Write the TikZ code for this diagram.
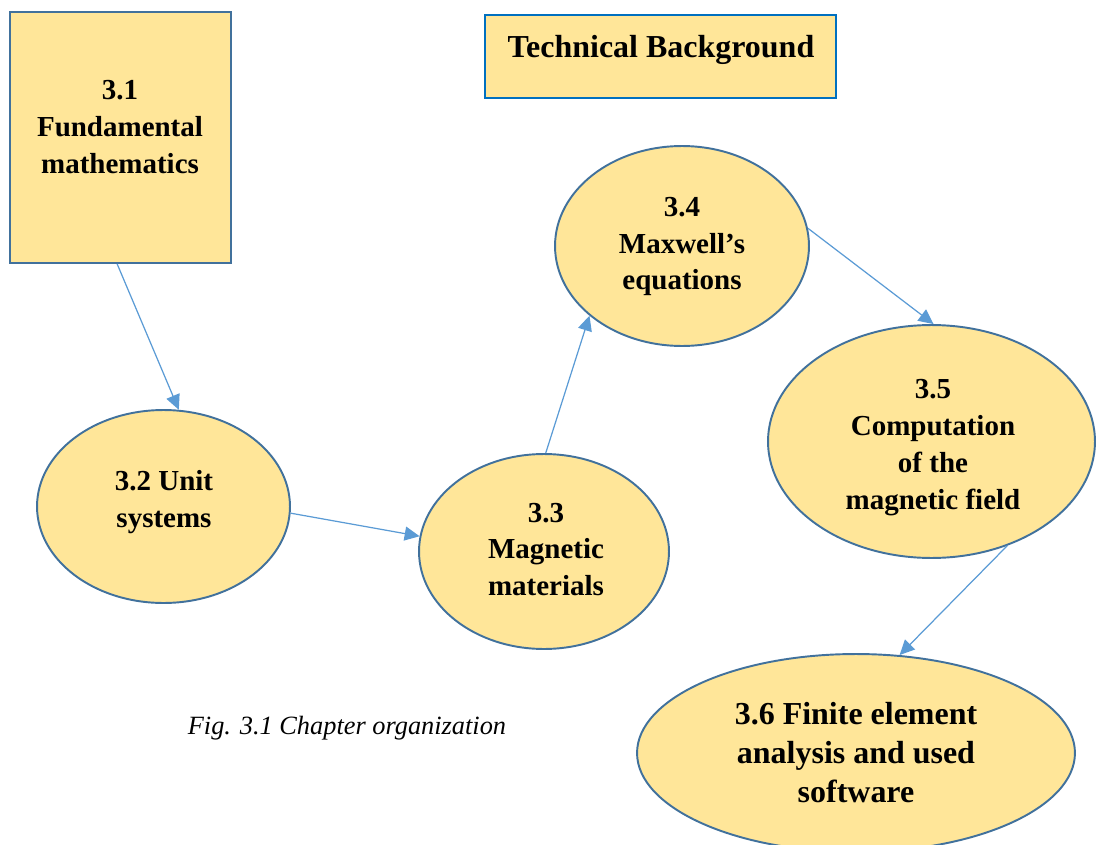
\documentclass[tikz,border=0pt]{standalone}
\usepackage{fontspec}
\setmainfont{Liberation Serif}
\usetikzlibrary{shapes.geometric,arrows.meta,calc}
\definecolor{boxfill}{HTML}{FFE699}
\definecolor{boxline}{HTML}{41719C}
\definecolor{titleline}{HTML}{0070C0}
\definecolor{arrowc}{HTML}{5B9BD5}
\begin{document}
\begin{tikzpicture}[x=0.02cm,y=-0.02cm,
 oval/.style={ellipse, draw=boxline, fill=boxfill, line width=1.1pt, inner sep=0pt},
 lbl/.style={font=\fontsize{16.5}{21}\selectfont\bfseries, align=center, inner sep=0pt},
 big/.style={font=\fontsize{18.2}{22.2}\selectfont\bfseries, align=center, inner sep=0pt},
 conn/.style={draw=arrowc, line width=0.7pt, -{Triangle[length=8.5pt,width=8pt]}}]
\useasboundingbox (0,0) rectangle (1096,845);
% boxes
\node[draw=boxline, fill=boxfill, line width=1.1pt, minimum width=4.42cm, minimum height=5.02cm, inner sep=0pt] (r31) at (120.5,137.5) {};
\node[lbl] (t31) at (120,127) {3.1\\Fundamental\\mathematics};
\node[draw=titleline, fill=boxfill, line width=1.1pt, minimum width=7.02cm, minimum height=1.66cm, inner sep=0pt] (title) at (660.5,56.5) {};
\node[big] (ttitle) at (661,50) {Technical Background};
% ellipses
\node[oval, minimum width=5.06cm, minimum height=3.86cm] (e32) at (163.5,506.5) {};
\node[lbl] (t32) at (164,502) {3.2 Unit\\systems};
\node[oval, minimum width=5.0cm, minimum height=3.9cm] (e33) at (544,551.5) {};
\node[lbl] (t33) at (546,549.5) {3.3\\Magnetic\\materials};
\node[oval, minimum width=5.08cm, minimum height=4.0cm] (e34) at (682,246) {};
\node[lbl] (t34) at (682,246.5) {3.4\\Maxwell’s\\equations};
\node[oval, minimum width=6.54cm, minimum height=4.66cm] (e35) at (931.5,441.5) {};
\node[lbl] (t35) at (933,447.5) {3.5\\Computation\\of the\\magnetic field};
\node[oval, minimum width=8.76cm, minimum height=3.96cm] (e36) at (856,753) {};
\node[big] (t36) at (856,753) {3.6 Finite element\\analysis and used\\software};
% caption
\node[font=\fontsize{15}{18}\selectfont\itshape, inner sep=0pt] (cap) at (347,728) {Fig. 3.1 Chapter organization};
% connectors
\draw[conn] ($(r31.south west)!0.485!(r31.south east)$) -- (e32.81);
\draw[conn] (e32.-3) -- (e33.173);
\draw[conn] (e33.89) -- (e34.217);
\draw[conn] (e34.8.6) -- (e35.89);
\draw[conn] (e35.-54) -- (e36.66);
\end{tikzpicture}
\end{document}
